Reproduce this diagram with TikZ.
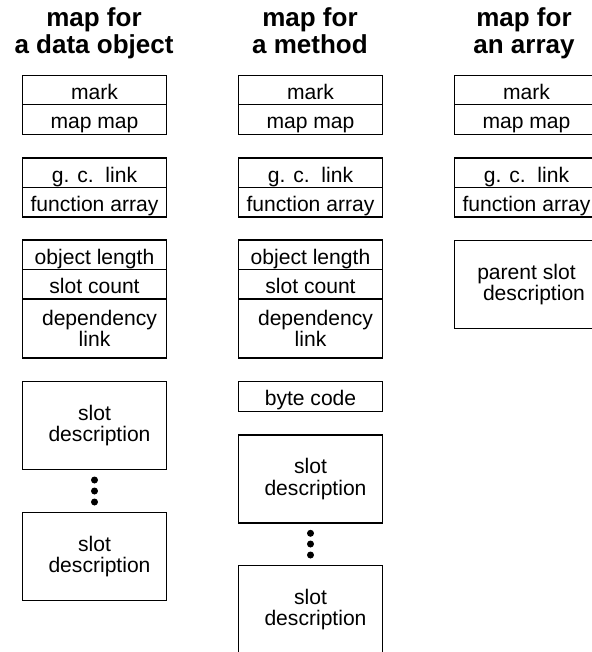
\documentclass[tikz,border=0pt]{standalone}
\usepackage{fontspec}
\setmainfont{Liberation Sans}
\begin{document}
\begin{tikzpicture}[
  cell/.style={draw, line width=0.6pt, minimum width=2.88cm, minimum height=0.59cm, inner sep=0pt,
    text height=10.8pt, text depth=0pt, font=\fontsize{12}{12}\selectfont},
  tall/.style={draw, line width=0.6pt, minimum width=2.88cm, minimum height=1.76cm, inner sep=0pt,
    align=center, font=\fontsize{12}{12}\selectfont},
  head/.style={align=center, font=\fontsize{14.8}{15.4}\selectfont\bfseries},
  dot/.style={circle, fill, inner sep=0pt, minimum size=0.14cm}]
\path[use as bounding box, clip] (0,0) rectangle (11.84,-13.04);

\node [head] (n0)  at (1.88,-0.662) {map for\\a data object};
\node [head] (n1)  at (6.20,-0.607) {map for\\a method};
\node [head] (n2)  at (10.48,-0.662) {map for\\an array};

\node [cell] (n3)  at (1.89,-1.800) {mark};
\node [cell] (n4)  at (1.89,-2.390) {map map};
\node [cell] (n5)  at (1.89,-3.455) {g. c.\ \ link};
\node [cell] (n6)  at (1.89,-4.045) {function array};
\node [cell] (n7)  at (1.89,-5.095) {object length};
\node [cell] (n8)  at (1.89,-5.685) {slot count};
\node [tall, minimum height=1.18cm] (n9)  at (1.89,-6.570) {\hspace*{0.2cm}dependency\\link};
\node [tall] (n10) at (1.89,-8.514) {slot\\\hspace*{0.2cm}description};
\node [dot]  (n11) at (1.89,-9.600) {};
\node [dot]  (n12) at (1.89,-9.820) {};
\node [dot]  (n13) at (1.89,-10.040) {};
\node [tall] (n14) at (1.89,-11.126) {slot\\\hspace*{0.2cm}description};

\node [cell] (n15) at (6.21,-1.800) {mark};
\node [cell] (n16) at (6.21,-2.390) {map map};
\node [cell] (n17) at (6.21,-3.455) {g. c.\ \ link};
\node [cell] (n18) at (6.21,-4.045) {function array};
\node [cell] (n19) at (6.21,-5.095) {object length};
\node [cell] (n20) at (6.21,-5.685) {slot count};
\node [tall, minimum height=1.18cm] (n21) at (6.21,-6.570) {\hspace*{0.2cm}dependency\\link};
\node [cell] (n22) at (6.21,-7.929) {byte code};
\node [tall] (n23) at (6.21,-9.580) {slot\\\hspace*{0.2cm}description};
\node [dot]  (n24) at (6.21,-10.666) {};
\node [dot]  (n25) at (6.21,-10.880) {};
\node [dot]  (n26) at (6.21,-11.100) {};
\node [tall] (n27) at (6.21,-12.194) {slot\\\hspace*{0.2cm}description};

\node [cell] (n28) at (10.53,-1.800) {mark};
\node [cell] (n29) at (10.53,-2.390) {map map};
\node [cell] (n30) at (10.53,-3.455) {g. c.\ \ link};
\node [cell] (n31) at (10.53,-4.045) {function array};
\node [tall] (n32) at (10.53,-5.683) {parent slot\\\hspace*{0.3cm}description};
\end{tikzpicture}
\end{document}
